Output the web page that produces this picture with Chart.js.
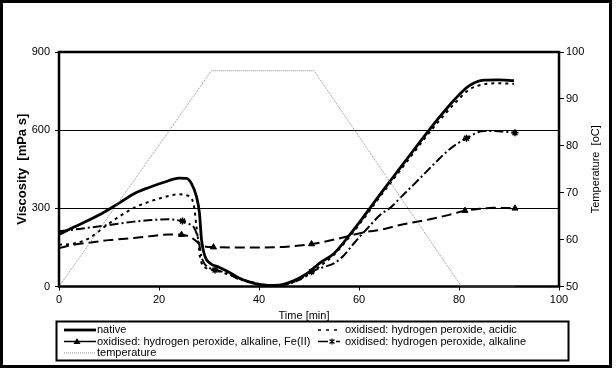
<!DOCTYPE html>
<html>
<head>
<meta charset="utf-8">
<script src="https://cdn.jsdelivr.net/npm/chart.js@4.4.1/dist/chart.umd.min.js"></script>
<style>
  html, body { margin: 0; padding: 0; background: #fff; }
  #wrap { width: 616px; height: 371px; position: relative; }
</style>
</head>
<body>
<div id="wrap"><canvas id="c" width="616" height="371"></canvas></div>
<script>
// ---------- DATA ----------
const xTicks = [0, 20, 40, 60, 80, 100];
const viscTicks = [0, 300, 600, 900];
const tempTicks = [50, 60, 70, 80, 90, 100];

const seriesLabels = [
  "native",
  "oxidised: hydrogen peroxide, acidic",
  "oxidised: hydrogen peroxide, alkaline, Fe(II)",
  "oxidised: hydrogen peroxide, alkaline",
  "temperature"
];

const nativeTime = [0,3,6,9,12,15,18,21,24,25.5,26.5,27.5,28.1,28.5,29.2,30.2,32,34,36,38,40,42,44,46,48,50,52,55,58,61,64,67,70,73,76,79,82,85,88,91];
const nativeVisc = [200,228,255,285,320,356,380,400,416,415,395,345,280,180,115,89,74,55,33,18,8,4,5,15,32,55,88,127,195,270,348,424,500,575,648,715,770,792,793,790];

const acidicTime = [0,3,6,9,12,15,18,21,24,25.5,26.9,27.5,28.2,29.5,31,34,37,40,43,46,49,52,55,58,61,64,67,70,73,76,79,82,85,88,91];
const acidicVisc = [160,165,185,228,268,302,325,343,354,350,319,229,114,70,63,45,25,10,5,12,35,75,122,188,262,340,415,490,565,635,700,755,776,780,778];

const fe2Time = [0,3.5,6,10,15,19.5,22,24.5,26,27.2,28.5,30.9,35,40,45,50.5,55,58.9,61.5,64.2,68.2,74.2,78,81.2,84,86.9,91.2];
const fe2Visc = [148,162,168,178,186,196,200,199,192,178,158,151,150,150,152,163,180,198,210,217,236,258,275,291,298,302,300];

const alkTime = [0,4,10,15,20,22,24.5,26,26.9,27.9,28.5,30.2,31.5,34,36,38,40,42,44,46,48,50.5,53,55,57,59,62,64.2,66.5,68.5,71.5,75,78,81.5,85,88,91.2];
const alkVisc = [212,221,236,249,257,258,251,240,229,178,114,70,63,48,28,18,10,5,5,10,25,57,75,89,120,166,230,274,306,345,402,470,525,569,597,596,590];

const fe2MarkTime = [24.5,30.9,50.5,81.2,91.2];
const fe2MarkVisc = [199,151,163,291,300];
const alkMarkTime = [24.7,31.2,50.5,81.5,91.2];
const alkMarkVisc = [251,63,57,569,590];

const tempTime = [0,30.5,51,80.5,91.2];
const tempValue = [50,96,96,50,50];

// ---------- helpers ----------
const pts = (t, v) => t.map((x, i) => ({ x: x, y: v[i] }));
const FONT = "'Liberation Sans', Arial, sans-serif";

const styles = {
  native: { color: '#000', width: 2.8, dash: [] },
  acidic: { color: '#000', width: 2, dash: [3, 4] },
  fe2: { color: '#000', width: 2, dash: [10, 5] },
  alk: { color: '#000', width: 2, dash: [9, 3, 2, 3] },
  temp: { color: '#8c8c8c', width: 1, dash: [1, 1] }
};

function lineDs(label, data, st, axis, smooth) {
  const d = {
    label: label, data: data, yAxisID: axis,
    borderColor: st.color, borderWidth: st.width, borderDash: st.dash,
    pointRadius: 0, fill: false, tension: 0,
    borderCapStyle: 'butt', borderJoinStyle: 'round'
  };
  if (smooth) d.cubicInterpolationMode = 'monotone';
  return d;
}

const datasets = [
  lineDs(seriesLabels[4], pts(tempTime, tempValue), styles.temp, 'y1', false),
  lineDs(seriesLabels[2], pts(fe2Time, fe2Visc), styles.fe2, 'y', true),
  lineDs(seriesLabels[3], pts(alkTime, alkVisc), styles.alk, 'y', true),
  lineDs(seriesLabels[1], pts(acidicTime, acidicVisc), styles.acidic, 'y', true),
  lineDs(seriesLabels[0], pts(nativeTime, nativeVisc), styles.native, 'y', true),
  {
    label: 'fe2marks', data: pts(fe2MarkTime, fe2MarkVisc), yAxisID: 'y', showLine: false,
    pointStyle: 'triangle', pointRadius: 3.5, backgroundColor: '#000', borderColor: '#000', borderWidth: 1
  },
  {
    label: 'alkmarks', data: pts(alkMarkTime, alkMarkVisc), yAxisID: 'y', showLine: false,
    pointStyle: 'star', pointRadius: 3.5, backgroundColor: '#000', borderColor: '#000', borderWidth: 1.5
  }
];

// ---------- custom drawing: frames, titles, legend ----------
function sample(ctx, x1, x2, y, st) {
  ctx.save();
  ctx.strokeStyle = st.color; ctx.lineWidth = st.width; ctx.setLineDash(st.dash);
  ctx.beginPath(); ctx.moveTo(x1, y); ctx.lineTo(x2, y); ctx.stroke();
  ctx.restore();
}

const decor = {
  id: 'decor',
  beforeDatasetsDraw(chart) {
    const ctx = chart.ctx, a = chart.chartArea;
    ctx.save();
    ctx.strokeStyle = '#000'; ctx.lineWidth = 2.5;
    ctx.strokeRect(a.left, a.top, a.right - a.left, a.bottom - a.top);
    ctx.restore();
  },
  afterDraw(chart) {
    const ctx = chart.ctx, a = chart.chartArea;
    ctx.save();
    // outer frame
    ctx.strokeStyle = '#000'; ctx.lineWidth = 3;
    ctx.strokeRect(1.5, 1.5, 609, 365);
    // axis titles
    ctx.fillStyle = '#000';
    ctx.textAlign = 'center'; ctx.textBaseline = 'middle';
    ctx.font = 'bold 13px ' + FONT;
    ctx.save(); ctx.translate(22, (a.top + a.bottom) / 2); ctx.rotate(-Math.PI / 2);
    ctx.fillText('Viscosity  [mPa s]', 0, 0); ctx.restore();
    ctx.font = '11px ' + FONT;
    ctx.save(); ctx.translate(596, (a.top + a.bottom) / 2); ctx.rotate(-Math.PI / 2);
    ctx.fillText('Temperature  [oC]', 0, 0); ctx.restore();
    ctx.fillText('Time [min]', 304, 316);
    // legend box
    ctx.lineWidth = 2;
    ctx.strokeRect(56.5, 321.5, 512, 39);
    ctx.font = '11px ' + FONT;
    ctx.textAlign = 'left';
    const r1 = 330, r2 = 341.5, r3 = 353;
    // native
    sample(ctx, 64, 96, r1, styles.native);
    ctx.fillText(seriesLabels[0], 97, r1);
    // Fe(II)
    sample(ctx, 64, 96, r2, { color: '#000', width: 1.5, dash: [] });
    ctx.beginPath(); ctx.moveTo(77, r2 - 3.5); ctx.lineTo(80.5, r2 + 2.5); ctx.lineTo(73.5, r2 + 2.5); ctx.closePath(); ctx.fill();
    ctx.fillText(seriesLabels[2], 97, r2);
    // temperature
    sample(ctx, 64, 96, r3, styles.temp);
    ctx.fillText(seriesLabels[4], 97, r3);
    // acidic
    sample(ctx, 318, 342, r1, { color: '#000', width: 1.5, dash: [3, 5] });
    ctx.fillText(seriesLabels[1], 345, r1);
    // alkaline
    sample(ctx, 318, 328, r2, { color: '#000', width: 1.5, dash: [] });
    sample(ctx, 336, 340, r2, { color: '#000', width: 1.5, dash: [] });
    ctx.lineWidth = 1.2;
    ctx.beginPath();
    ctx.moveTo(332, r2 - 3); ctx.lineTo(332, r2 + 3);
    ctx.moveTo(329.5, r2 - 2); ctx.lineTo(334.5, r2 + 2);
    ctx.moveTo(329.5, r2 + 2); ctx.lineTo(334.5, r2 - 2);
    ctx.stroke();
    ctx.fillText(seriesLabels[3], 345, r2);
    ctx.restore();
  }
};

Chart.defaults.font.family = FONT;
Chart.defaults.font.size = 11;
Chart.defaults.color = '#000';

new Chart(document.getElementById('c'), {
  type: 'line',
  data: { datasets: datasets },
  options: {
    responsive: false,
    animation: false,
    layout: { padding: { top: 52, left: 0, right: 0, bottom: 0 } },
    plugins: { legend: { display: false }, tooltip: { enabled: false } },
    scales: {
      x: {
        type: 'linear', min: 0, max: 100,
        afterBuildTicks: s => { s.ticks = xTicks.map(v => ({ value: v })); },
        afterFit: s => { s.height = 84.5; },
        grid: { drawOnChartArea: false, drawTicks: true, tickLength: 4, tickColor: '#000', lineWidth: 1 },
        border: { display: false },
        ticks: { padding: 3, maxRotation: 0, font: { size: 11 } }
      },
      y: {
        type: 'linear', position: 'left', min: 0, max: 900,
        afterBuildTicks: s => { s.ticks = viscTicks.map(v => ({ value: v })); },
        afterFit: s => { s.width = 59; },
        grid: { color: '#000', lineWidth: 1, drawTicks: true, tickLength: 4, tickColor: '#000' },
        border: { display: false },
        ticks: { padding: 5, font: { size: 11 } }
      },
      y1: {
        type: 'linear', position: 'right', min: 50, max: 100,
        afterBuildTicks: s => { s.ticks = tempTicks.map(v => ({ value: v })); },
        afterFit: s => { s.width = 57; },
        grid: { drawOnChartArea: false, drawTicks: true, tickLength: 5, tickColor: '#000' },
        border: { display: false },
        ticks: { padding: 2, font: { size: 11 } }
      }
    }
  },
  plugins: [decor]
});
</script>
</body>
</html>
